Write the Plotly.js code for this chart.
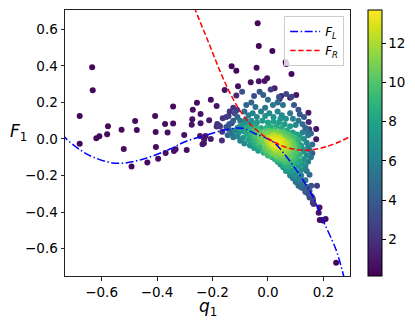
<!DOCTYPE html>
<html><head><meta charset="utf-8">
<script src="https://cdn.plot.ly/plotly-3.0.1.min.js"></script>
<style>body{margin:0;background:#fff}#c{width:415px;height:327px}</style>
</head><body><div id="c"></div>
<script>
// Curves
const fLx = [-0.74,-0.732,-0.677,-0.629,-0.545,-0.455,-0.353,-0.299,-0.221,-0.138,-0.09,-0.048,0.0,0.024,0.054,0.102,0.162,0.198,0.246,0.275,0.285];
const fLy = [0.03,0.008,-0.06,-0.1,-0.133,-0.112,-0.055,-0.015,0.022,0.055,0.058,0.03,0.0,-0.022,-0.072,-0.169,-0.315,-0.443,-0.607,-0.76,-0.82];
const fRx = [-0.275,-0.263,-0.245,-0.209,-0.174,-0.138,-0.102,-0.066,-0.036,-0.006,0.024,0.042,0.07,0.102,0.13,0.15,0.18,0.21,0.258,0.296,0.31];
const fRy = [0.76,0.71,0.642,0.508,0.375,0.255,0.158,0.085,0.042,0.008,-0.018,-0.032,-0.048,-0.058,-0.062,-0.061,-0.054,-0.042,-0.015,0.013,0.024];

// Scatter points [q1, F1, density]
const outlierPts = [
[-0.634,0.392,0.4],[-0.632,0.266,0.4],[-0.679,0.126,0.3],[-0.679,-0.026,0.3],[-0.619,0.004,0.4],[-0.608,0.015,0.4],
[-0.580,0.026,0.5],[-0.577,0.069,0.5],[-0.528,0.051,0.5],[-0.520,-0.055,0.5],[-0.479,0.098,0.5],[-0.473,0.049,0.5],
[-0.492,-0.151,0.4],[-0.407,0.126,0.5],[-0.405,0.038,0.6],[-0.404,-0.044,0.6],[-0.396,-0.108,0.5],[-0.435,-0.128,0.5],
[-0.371,0.082,0.6],[-0.362,0.035,0.6],[-0.342,0.178,0.5],[-0.342,0.084,0.6],[-0.369,-0.077,0.6],[-0.339,-0.066,0.7],
[-0.333,-0.056,0.7],[-0.302,0.022,0.7],[-0.293,-0.060,0.6],[-0.256,0.198,0.6],[-0.271,0.160,0.7],[-0.206,0.215,0.7],
[-0.185,0.180,0.8],[-0.243,0.137,0.8],[-0.273,0.108,0.8],[-0.243,0.086,0.9],[-0.275,0.078,0.8],[-0.212,0.102,0.9],
[-0.245,0.016,1.0],[-0.225,0.016,1.0],[-0.230,-0.002,1.0],[-0.231,-0.024,0.9],[-0.236,-0.029,0.9],[-0.206,0.000,1.1],
[-0.037,0.632,0.3],[-0.033,0.508,0.3],[-0.131,0.397,0.4],[-0.114,0.373,0.4],[-0.041,0.390,0.5],[-0.108,0.288,0.6],
[-0.062,0.310,0.7],[-0.033,0.315,0.8],[-0.012,0.317,0.8],[-0.003,0.332,0.7],[-0.156,0.268,0.6],[0.016,0.481,0.3],
[0.064,0.421,0.4],[0.066,0.410,0.4],[0.085,0.355,0.4],[0.024,0.277,1.2],[0.102,0.240,0.8],[0.080,0.226,1.2],
[0.042,0.219,1.5],[0.048,0.235,1.3],
[0.186,-0.375,0.8],[0.183,-0.403,0.7],[0.187,-0.443,0.5],[0.198,-0.446,0.5],[0.208,-0.437,0.5],[0.246,-0.676,0.3],
[0.174,0.055,0.8],[0.174,-0.002,0.9],[0.146,0.144,1.0],[0.147,0.093,1.5]
];
const fringePts = [
[-0.163,0.113,2.0],[-0.178,0.075,2.2],[-0.183,0.082,2.0],[-0.173,0.070,2.4],[-0.185,0.068,1.8],[-0.165,0.040,2.2],
[-0.166,-0.009,1.8],[-0.142,0.126,2.2],[-0.131,0.086,3.0],[-0.114,0.237,1.6],[-0.111,0.158,2.5],[-0.138,0.150,2.0],
[-0.150,0.120,2.5],[-0.125,0.170,2.2],
[0.162,-0.330,2.5],[0.162,-0.348,2.2],[0.165,-0.355,2.0],[0.177,-0.255,2.5],[0.156,-0.255,3.5],[0.144,-0.288,3.5],
[0.160,-0.078,4.0]
];
const cloudPts = [
[-0.093,0.258,3.5],[-0.078,0.186,4.5],[-0.060,0.200,4.5],[-0.045,0.175,5.2],[-0.030,0.258,3.8],[-0.017,0.240,4.2],
[0.000,0.215,4.8],[0.018,0.186,5.5],[0.035,0.200,5.0],[0.054,0.186,5.2],[0.066,0.246,3.0],[0.085,0.231,2.8],
[0.094,0.186,3.8],[0.110,0.160,3.5],[-0.085,0.150,5.0],[-0.070,0.130,5.8],[-0.055,0.140,6.0],[-0.040,0.120,6.5],
[-0.025,0.150,6.0],[-0.010,0.170,5.5],[0.005,0.140,6.5],[0.020,0.120,7.0],[0.035,0.150,6.2],[0.050,0.130,6.5],
[0.065,0.110,6.8],[0.080,0.140,5.5],[0.090,0.110,6.0],[0.100,0.077,6.5],[0.110,0.100,5.5],[0.125,0.080,5.0],
[0.130,0.120,4.0],[-0.110,0.120,4.5],[-0.125,0.100,4.2],[-0.100,0.100,5.5],[-0.080,0.105,6.2],[-0.060,0.100,6.8],
[-0.040,0.090,7.2],[-0.020,0.100,7.5],[0.000,0.090,8.0],[0.020,0.095,7.8],[0.040,0.090,7.6],[0.060,0.080,7.5],
[0.080,0.070,7.5],[-0.010,0.125,7.0],[0.045,0.110,7.0],[-0.140,0.080,3.8],[-0.150,0.065,3.5],[-0.120,0.140,3.2],
[0.010,0.270,2.5],[-0.050,0.235,3.2],[0.040,0.230,3.5],[0.115,0.135,4.0],[0.135,0.060,4.2],[0.149,0.053,2.5],
[0.110,-0.020,8.0],[0.120,-0.035,7.5],[0.125,-0.055,7.2],[0.130,-0.070,7.0],[0.115,0.010,7.5],[0.130,0.000,6.8],
[0.140,-0.020,6.2],[0.145,-0.045,6.0],[0.150,-0.060,5.5],[0.145,0.020,5.5],[0.160,-0.030,5.0],[0.125,0.035,6.0],
[0.140,0.045,5.0],[0.155,0.030,4.5]
];
const bandPts = [
[-0.005,0.060,8.8],[0.010,0.065,8.5],[0.030,0.068,8.2],[0.050,0.060,8.2],[0.070,0.048,8.4],[0.090,0.035,8.0],
[0.105,0.025,7.8],[-0.025,0.060,8.5],[-0.045,0.075,7.8],[-0.065,0.085,7.0],[-0.085,0.080,7.2],[-0.100,0.070,7.0],
[-0.095,0.050,7.5],[-0.110,0.060,6.5],[-0.120,0.045,6.0],[-0.105,0.035,6.6],[-0.085,0.040,7.8],[-0.075,0.025,8.2],
[-0.065,0.015,8.4],[-0.130,0.030,5.2],[-0.140,0.050,4.8],[-0.145,0.020,4.5],[-0.125,0.010,5.5],[-0.110,0.015,6.2],
[-0.090,0.005,7.0],[-0.070,-0.005,7.8],[-0.055,-0.015,8.2],[-0.045,-0.030,8.6],[-0.030,-0.040,9.0],[-0.020,-0.055,9.2],
[-0.100,-0.010,6.0],[-0.085,-0.025,6.5],[-0.065,-0.035,7.0],[-0.050,-0.050,7.4],[-0.035,-0.065,7.8],[-0.015,-0.075,8.5],
[0.000,-0.090,8.8],[0.015,-0.100,8.8],[0.025,-0.110,8.5],[0.035,-0.125,8.0],[0.045,-0.140,7.6],[0.055,-0.155,7.2],
[0.065,-0.175,6.8],[0.080,-0.200,6.2],[0.090,-0.215,5.8],[0.100,-0.235,5.2],[0.110,-0.255,4.8],
[0.070,-0.165,7.8],[0.085,-0.175,7.5],[0.095,-0.165,7.8],[0.110,-0.150,7.6],[0.125,-0.135,7.2],[0.130,-0.110,7.0],
[0.080,-0.185,7.0],[0.095,-0.195,6.8],[0.105,-0.185,7.0],[0.120,-0.170,6.6],[0.135,-0.150,6.2],[0.100,-0.210,6.2],
[0.110,-0.220,6.0],[0.120,-0.200,6.0],[0.140,-0.175,5.6],[0.145,-0.125,6.0],[0.140,-0.090,6.5],[0.155,-0.100,5.5],
[0.115,-0.235,5.4],[0.125,-0.245,5.0],[0.135,-0.225,5.2],[0.150,-0.195,4.8],
[0.120,-0.265,4.5],[0.130,-0.272,4.2],[0.140,-0.262,4.0],[0.135,-0.290,3.8],[0.145,-0.300,3.5],[0.150,-0.285,3.6],
[0.155,-0.310,3.2],[0.160,-0.320,2.8],[0.150,-0.320,3.0]
];
const greenPts = [
[-0.080,0.060,8.5],[-0.065,0.050,9.0],[-0.050,0.040,9.5],[-0.040,0.030,10.0],[-0.030,0.020,10.5],[-0.020,0.015,11.0],
[-0.060,0.030,9.0],[-0.045,0.018,9.8],[-0.030,0.005,10.4],[-0.020,-0.005,10.8],[-0.015,0.030,10.5],[-0.035,0.045,9.5],
[-0.050,0.058,8.8],[-0.070,0.070,8.0],[-0.040,0.000,9.6],[-0.025,-0.015,10.2],[-0.010,-0.025,10.8],[-0.055,0.010,8.8],
[0.000,0.030,11.0],[0.015,0.035,10.8],[0.030,0.030,11.2],[0.045,0.020,11.0],[0.060,0.010,10.8],[0.075,0.000,10.5],
[0.090,-0.010,10.0],[0.005,0.045,10.0],[0.025,0.050,9.8],[0.045,0.040,10.0],[0.065,0.028,9.8],[0.085,0.015,9.5],
[0.100,0.002,9.0],[-0.010,-0.045,10.5],[0.000,-0.060,10.5],[0.010,-0.070,10.8],[0.020,-0.080,11.0],[0.035,-0.085,11.0],
[0.050,-0.090,10.8],[0.060,-0.080,11.2],[0.070,-0.075,11.0],[0.085,-0.060,10.8],[0.095,-0.045,10.2],[0.100,-0.030,9.8],
[0.090,-0.028,10.5],[0.040,-0.100,10.0],[0.055,-0.110,10.0],[0.070,-0.105,10.2],[0.080,-0.095,10.5],[0.090,-0.085,10.0],
[0.100,-0.075,9.8],[0.045,-0.120,9.2],[0.060,-0.130,9.3],[0.075,-0.125,9.5],[0.090,-0.115,9.5],[0.105,-0.100,9.2],
[0.115,-0.085,8.8],[0.060,-0.145,8.5],[0.075,-0.150,8.7],[0.090,-0.140,8.8],[0.100,-0.130,8.6],[0.115,-0.120,8.2],
[-0.005,0.045,10.2],[0.020,0.040,10.5],[0.040,0.030,10.8],[0.055,0.035,10.2],[0.075,0.020,10.0],[0.095,0.010,9.4],
[0.080,-0.010,10.8],[0.090,-0.050,10.5],[0.065,-0.065,11.5],[0.045,-0.075,11.4],[0.025,-0.065,11.6],[0.005,-0.050,11.0],
[-0.010,-0.060,10.0],[0.030,-0.095,10.5],[0.050,-0.105,10.2],[0.065,-0.118,9.8],[0.035,-0.110,9.6],[-0.005,-0.075,9.6],
[0.010,-0.088,9.8],[-0.060,0.045,9.0],[-0.045,0.055,9.2],[-0.030,0.035,10.0],[-0.010,0.020,11.2],[-0.035,-0.020,9.6],
[-0.050,-0.005,9.0],[0.085,-0.100,9.8],[0.095,-0.100,9.4],[0.105,-0.060,9.4],[0.110,-0.045,9.0],[0.108,-0.005,8.8]
];
const corePts = [
[0.000,0.005,12.0],[0.010,0.000,12.8],[0.020,-0.010,13.3],[0.030,-0.018,13.6],[0.040,-0.025,13.4],[0.050,-0.035,13.0],
[0.060,-0.045,12.4],[0.070,-0.055,11.8],[0.015,0.015,12.2],[0.025,0.005,12.9],[0.035,-0.005,13.2],[0.045,-0.012,13.0],
[0.055,-0.020,12.6],[0.065,-0.030,12.0],[0.005,-0.015,12.3],[0.015,-0.025,12.9],[0.025,-0.032,13.2],[0.035,-0.040,13.1],
[0.045,-0.050,12.6],[0.055,-0.060,12.0],[-0.010,0.010,11.5],[-0.005,-0.005,11.8],[0.000,-0.025,11.7],[0.010,-0.040,12.0],
[0.020,-0.050,12.2],[0.030,-0.058,12.0],[0.040,-0.068,11.5],[0.030,0.012,12.3],[0.045,0.002,12.5],[0.060,-0.008,12.0],
[0.075,-0.020,11.5],[0.080,-0.040,11.2],
[0.020,0.020,12.3],[0.040,0.010,12.6],[0.050,-0.005,12.8],[0.060,-0.025,12.5],[0.070,-0.040,12.0],[0.010,-0.012,12.6],
[0.020,-0.040,12.6],[0.030,-0.045,12.8],[0.040,-0.050,12.5],[0.050,-0.070,11.8],[0.000,-0.008,12.0],[0.010,0.010,12.4],
[0.025,-0.020,13.4],[0.035,-0.030,13.5],[0.045,-0.040,13.0]
];
const cTicks = [2,4,6,8,10,12];
const xTicks = [-0.6,-0.4,-0.2,0.0,0.2];
const yTicks = [-0.6,-0.4,-0.2,0.0,0.2,0.4,0.6];

const allPts = outlierPts.concat(fringePts, cloudPts, bandPts, greenPts, corePts).slice().sort((a,b)=>a[2]-b[2]);
const F = "DejaVu Sans, sans-serif";

const traces = [
 {type:'scatter', mode:'markers', x: allPts.map(p=>p[0]), y: allPts.map(p=>p[1]), showlegend:false,
  marker:{size:6, color: allPts.map(p=>p[2]), colorscale:'Viridis', cmin:0.12, cmax:13.7, line:{width:0},
   colorbar:{x:1.06, xanchor:'left', xpad:0, ypad:0, y:0.5, yanchor:'middle', len:1.0, lenmode:'fraction',
    thickness:13.5, thicknessmode:'pixels', outlinewidth:1, outlinecolor:'#000', ticks:'outside', ticklen:3.5,
    tickcolor:'#000', tickvals:cTicks, tickfont:{family:F, size:13.5, color:'#000'}}}},
 {type:'scatter', mode:'lines', x:fLx, y:fLy, name:'<i>F</i><sub><i>L</i></sub>', line:{color:'#0000ff', width:1.5, dash:'8px,2.5px,1.5px,2.5px', shape:'spline', smoothing:1}},
 {type:'scatter', mode:'lines', x:fRx, y:fRy, name:'<i>F</i><sub><i>R</i></sub>', line:{color:'#ff0000', width:1.5, dash:'5.5px,2.5px', shape:'spline', smoothing:1}}
];

const axisBase = {showgrid:false, zeroline:false, showline:true, mirror:true, linecolor:'#222', linewidth:1,
  ticks:'outside', ticklen:3.5, tickcolor:'#222', tickfont:{family:F, size:13.5, color:'#000'}, tickformat:'.1f'};

const layout = {
 width:415, height:327, margin:{l:65, r:64, t:10, b:51}, paper_bgcolor:'#fff', plot_bgcolor:'#fff',
 font:{family:F, color:'#000'},
 xaxis: Object.assign({}, axisBase, {range:[-0.732,0.296], tickvals:xTicks}),
 yaxis: Object.assign({}, axisBase, {range:[-0.749,0.705], tickvals:yTicks}),
 legend:{x:0.976, y:0.977, xanchor:'right', yanchor:'top', bgcolor:'rgba(255,255,255,0.8)', bordercolor:'#cccccc', borderwidth:1,
   font:{family:F, size:12, color:'#000'}, tracegroupgap:0},
 annotations:[
  {xref:'paper', yref:'paper', x:-0.2, y:0.54, xanchor:'left', yanchor:'middle', showarrow:false,
   text:'<i>F</i><sub>1</sub>', font:{family:F, size:17, color:'#000'}},
  {xref:'paper', yref:'paper', x:0.5, y:-0.068, xanchor:'center', yanchor:'top', showarrow:false,
   text:'<i>q</i><sub>1</sub>', font:{family:F, size:17, color:'#000'}}
 ]
};
Plotly.newPlot('c', traces, layout, {displayModeBar:false, staticPlot:true});
</script></body></html>
